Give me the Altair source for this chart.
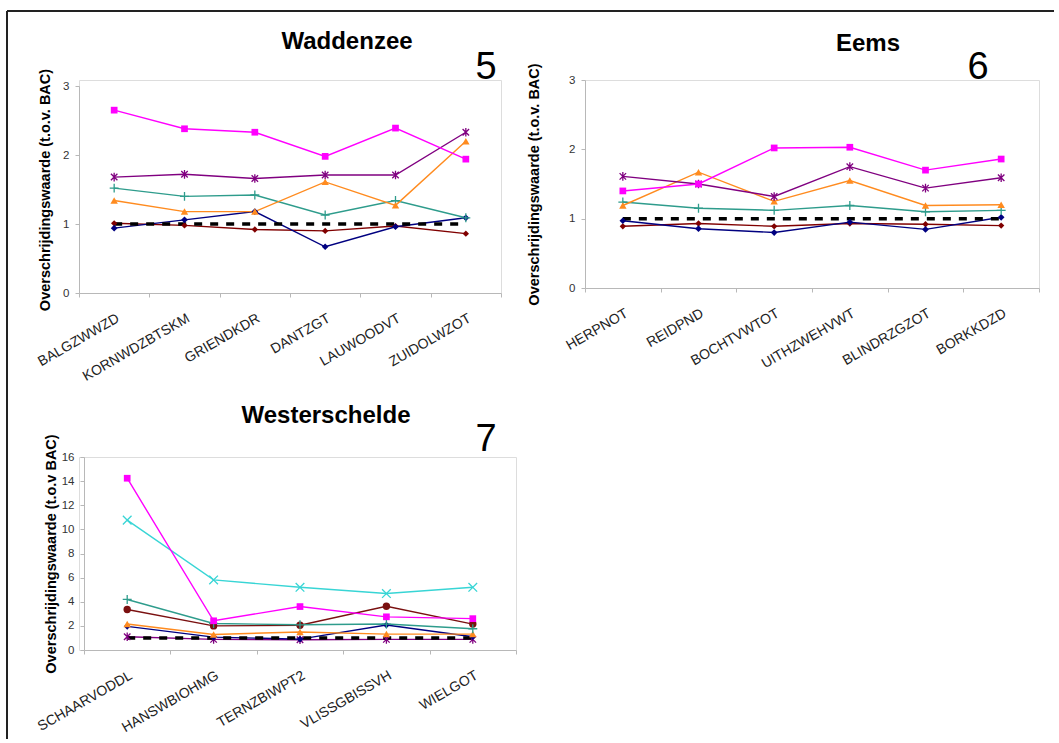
import altair as alt
import pandas as pd

FONT = "Liberation Sans"

# ---------------- data ----------------
wadden_sites = ["BALGZWWZD", "KORNWDZBTSKM", "GRIENDKDR", "DANTZGT", "LAUWOODVT", "ZUIDOLWZOT"]
wadden_navy = [0.94, 1.06, 1.18, 0.67, 0.96, 1.09]
wadden_magenta = [2.65, 2.38, 2.33, 1.98, 2.39, 1.94]
wadden_orange = [1.34, 1.18, 1.18, 1.61, 1.27, 2.20]
wadden_teal = [1.52, 1.40, 1.42, 1.13, 1.34, 1.09]
wadden_purple = [1.68, 1.72, 1.66, 1.71, 1.71, 2.33]
wadden_darkred = [1.01, 0.98, 0.92, 0.90, 0.97, 0.86]

eems_sites = ["HERPNOT", "REIDPND", "BOCHTVWTOT", "UITHZWEHVWT", "BLINDRZGZOT", "BORKKDZD"]
eems_navy = [0.97, 0.855, 0.80, 0.95, 0.845, 1.02]
eems_magenta = [1.40, 1.50, 2.02, 2.03, 1.70, 1.86]
eems_orange = [1.19, 1.67, 1.25, 1.55, 1.19, 1.20]
eems_teal = [1.24, 1.15, 1.12, 1.19, 1.10, 1.12]
eems_purple = [1.61, 1.50, 1.32, 1.75, 1.44, 1.59]
eems_darkred = [0.89, 0.93, 0.89, 0.93, 0.92, 0.90]

wester_sites = ["SCHAARVODDL", "HANSWBIOHMG", "TERNZBIWPT2", "VLISSGBISSVH", "WIELGOT"]
wester_magenta = [14.24, 2.42, 3.60, 2.75, 2.60]
wester_cyan = [10.77, 5.81, 5.20, 4.68, 5.20]
wester_teal = [4.19, 2.20, 2.09, 2.15, 1.76]
wester_brown = [3.36, 2.00, 2.05, 3.63, 2.15]
wester_orange = [2.15, 1.29, 1.49, 1.32, 1.32]
wester_navy = [1.96, 1.07, 0.90, 2.07, 1.10]
wester_purple = [1.10, 0.88, 0.85, 0.88, 0.88]

bac_level = 1.0

# ---------------- styles ----------------
PLUS = "M-1,0L1,0M0,-1L0,1"
STAR = "M-0.75,-0.75L0.75,0.75M-0.75,0.75L0.75,-0.75M0,-1L0,1"
XS = "M-1,-1L1,1M-1,1L1,-1"

STYLE = {
    "navy": dict(color="#000080", shape="diamond", size=45, filled=True),
    "magenta": dict(color="#FF00FF", shape="square", size=45, filled=True),
    "orange": dict(color="#FF8B1F", shape="triangle-up", size=55, filled=True),
    "teal": dict(color="#2E9C8C", shape=PLUS, size=80, filled=False),
    "purple": dict(color="#800080", shape=STAR, size=75, filled=False),
    "cyan": dict(color="#38D5D5", shape=XS, size=75, filled=False),
    "darkred": dict(color="#800000", shape="diamond", size=40, filled=True),
    "brown": dict(color="#7A1010", shape="circle", size=55, filled=True),
}

AXIS_GREY = "#b8b8b8"


def panel(sites, series, width, height, ymax, yvals, ytitle, title_pad,
          title, num, tpos, npos, xrange=None, yrange=None, yoffset=0, extra=None):
    xs = dict(domain=sites, paddingInner=0, paddingOuter=0)
    if xrange is not None:
        xs["range"] = xrange
    ys = dict(domain=[0, ymax], nice=False, zero=True)
    if yrange is not None:
        ys["range"] = yrange
    x = alt.X("site:N", sort=sites, scale=alt.Scale(**xs),
              axis=alt.Axis(title=None, labelAngle=330, tickBand="extent",
                            labelFont=FONT, labelFontSize=14, labelColor="#222",
                            labelPadding=14, tickSize=4, labelAlign="right",
                            labelBaseline="top", domainColor=AXIS_GREY,
                            tickColor=AXIS_GREY, grid=False))
    y = alt.Y("v:Q", scale=alt.Scale(**ys),
              axis=alt.Axis(values=yvals, grid=False, title=ytitle, titleFont=FONT,
                            titleFontSize=14.5, titleFontWeight="bold", titleColor="#000",
                            titlePadding=title_pad, labelFont=FONT, labelFontSize=11.5,
                            labelColor="#333", labelPadding=6, tickSize=4,
                            domainColor=AXIS_GREY, tickColor=AXIS_GREY,
                            offset=yoffset, format="d"))
    lines, points = [], []
    for key, vals in series:
        st = STYLE[key]
        df = pd.DataFrame({"site": sites, "v": vals})
        lines.append(alt.Chart(df).mark_line(color=st["color"], strokeWidth=1.4).encode(x=x, y=y))
        points.append(alt.Chart(df).mark_point(shape=st["shape"], size=st["size"],
                                               filled=st["filled"], color=st["color"],
                                               opacity=1, strokeWidth=1.3).encode(x=x, y=y))
    bac = pd.DataFrame({"site": sites, "v": [bac_level] * len(sites)})
    dashed = alt.Chart(bac).mark_line(color="#000", strokeWidth=3.5,
                                      strokeDash=[8, 8]).encode(x=x, y=y)
    ttl = alt.Chart(pd.DataFrame({"t": [title]})).mark_text(
        font=FONT, fontSize=24, fontWeight="bold", color="#000",
        align="center", baseline="middle").encode(text="t:N", x=alt.value(tpos[0]), y=alt.value(tpos[1]))
    nm = alt.Chart(pd.DataFrame({"t": [num]})).mark_text(
        font=FONT, fontSize=38, color="#000",
        align="center", baseline="middle").encode(text="t:N", x=alt.value(npos[0]), y=alt.value(npos[1]))
    layers = lines + [dashed] + points + [ttl, nm]
    if extra:
        layers += extra
    return alt.layer(*layers).properties(width=width, height=height)


# frame lines (decoration), drawn relative to the first panel
one = pd.DataFrame({"d": [0]})
frame_top = alt.Chart(one).mark_rule(color="#222", strokeWidth=2).encode(
    x=alt.value(-72), x2=alt.value(975), y=alt.value(-69))
frame_left = alt.Chart(one).mark_rule(color="#222", strokeWidth=2).encode(
    x=alt.value(-72), y=alt.value(-69), y2=alt.value(659))

A = panel(wadden_sites,
          [("darkred", wadden_darkred), ("navy", wadden_navy), ("teal", wadden_teal),
           ("orange", wadden_orange), ("purple", wadden_purple), ("magenta", wadden_magenta)],
          422, 213, 3, [0, 1, 2, 3], "Overschrijdingswaarde (t.o.v. BAC)", 10,
          "Waddenzee", "5", (268, -38), (407, -12), yrange=[213, 6],
          extra=[frame_top, frame_left])

B = panel(eems_sites,
          [("darkred", eems_darkred), ("navy", eems_navy), ("teal", eems_teal),
           ("orange", eems_orange), ("purple", eems_purple), ("magenta", eems_magenta)],
          454, 208, 3, [0, 1, 2, 3], "Overschrijdingswaarde (t.o.v. BAC)", 27,
          "Eems", "6", (283, -36), (393, -12))

C = panel(wester_sites,
          [("purple", wester_purple), ("navy", wester_navy), ("orange", wester_orange),
           ("brown", wester_brown), ("teal", wester_teal), ("cyan", wester_cyan),
           ("magenta", wester_magenta)],
          437, 193, 16, list(range(0, 17, 2)), "Overschrijdingswaarde (t.o.v BAC)", 3,
          "Westerschelde", "7", (247, -41), (407, -17), xrange=[5, 437], yoffset=-5)

chart = alt.concat(A, B, C, columns=2, spacing={"row": 164, "column": 69},
                   bounds="flush").properties(
    padding={"left": 5, "top": 9, "right": 0, "bottom": 0},
    background="white",
).configure_view(stroke=None).configure(font=FONT)

chart.save("out.html", embed_options={"renderer": "svg", "actions": False})
